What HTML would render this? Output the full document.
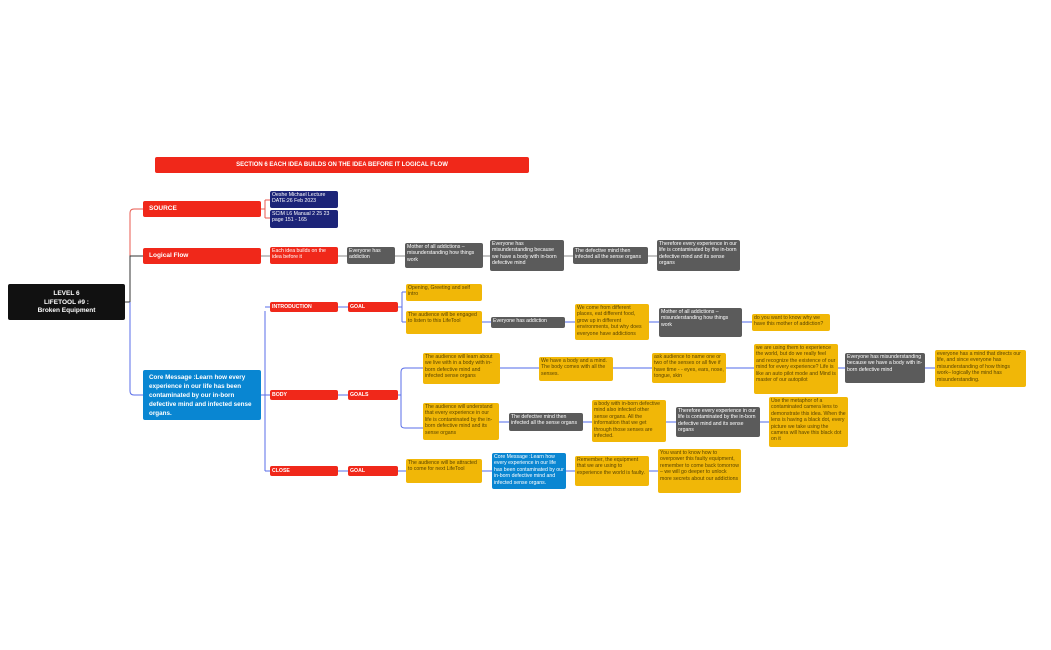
<!DOCTYPE html>
<html><head><meta charset="utf-8"><style>
body{margin:0;width:1051px;height:650px;background:#fff;position:relative;overflow:hidden;font-family:"Liberation Sans",sans-serif}
.b{position:absolute;box-sizing:border-box;border-radius:2px;font-size:5.2px;line-height:6.4px;padding:1px 2px;overflow:hidden}
.r{background:#f0281a;color:#fff;font-weight:bold}
.s{line-height:10px;padding:0 2px}
.n{background:#1c2478;color:#fff}
.g{background:#5b5b5b;color:#fff}
.y{background:#f1b707;color:#5a4400}
.bl{background:#0986d2;color:#fff}
.k{background:#111;color:#fff;font-weight:bold;text-align:center;font-size:6.5px;line-height:8.5px;padding-top:6px}
svg{position:absolute;left:0;top:0}
</style></head><body>
<svg width="1051" height="650" fill="none" stroke-width="1">
<path d="M125 302 H130" stroke="#333"/>
<path d="M130 302 V213 Q130 209 134 209 H143" stroke="#e85a4f"/>
<path d="M130 302 V256 H143" stroke="#333"/>
<path d="M130 302 V391 Q130 395 134 395 H143" stroke="#5a6ee8"/>
<path d="M261 209 H265 M265 200 V218 M265 200 H270 M265 218 H270" stroke="#e85a4f"/>
<path d="M261 256 H270 M338 256 H347 M395 256 H405 M483 256 H490 M564 256 H573 M648 256 H657" stroke="#888"/>
<path d="M261 395 H270 M265 311 V471 M265 307 H270 M265 471 H270" stroke="#5a6ee8"/>
<path d="M338 307 H348 M338 395 H348 M338 471 H348" stroke="#5a6ee8"/>
<path d="M398 307 H402 M402 292 V322 M402 292 H406 M402 322 H406" stroke="#5a6ee8"/>
<path d="M482 322 H491 M565 322 H575 M649 322 H659 M742 322 H752" stroke="#8a9cf0" stroke-width="1.5"/>
<path d="M398 395 H401 M401 372 V425 Q401 428 405 428 H423 M401 372 Q401 368 405 368 H423" stroke="#5a6ee8"/>
<path d="M500 368 H539 M613 368 H652 M726 368 H754 M838 368 H845 M925 368 H935" stroke="#8a9cf0" stroke-width="1.5"/>
<path d="M499 422 H509 M583 422 H592 M666 422 H676 M760 422 H769" stroke="#8a9cf0" stroke-width="1.5"/>
<path d="M398 471 H406 M482 471 H492 M566 471 H575 M649 471 H658" stroke="#8a9cf0" stroke-width="1.5"/>
</svg>
<div class="b r" style="left:155px;top:157px;width:374px;height:16px;text-align:center;font-size:6px;line-height:16px;padding:0">SECTION 6 EACH IDEA BUILDS ON THE IDEA BEFORE IT LOGICAL FLOW</div>
<div class="b k" style="left:8px;top:284px;width:117px;height:36px">LEVEL 6<br>LIFETOOL #9 :<br>Broken Equipment</div>
<div class="b r" style="left:143px;top:201px;width:118px;height:16px;font-size:6.5px;line-height:16px;padding:0 6px">SOURCE</div>
<div class="b r" style="left:143px;top:248px;width:118px;height:16px;font-size:6.5px;line-height:16px;padding:0 6px">Logical Flow</div>
<div class="b bl" style="left:143px;top:370px;width:118px;height:50px;font-weight:bold;font-size:6.3px;line-height:9px;padding:3px 6px">Core Message :Learn how every experience in our life has been contaminated by our in-born defective mind and infected sense organs.</div>
<div class="b n" style="left:270px;top:191px;width:68px;height:17px">Oeshe Michael Lecture DATE:26 Feb 2023</div>
<div class="b n" style="left:270px;top:210px;width:68px;height:18px">SCIM L6 Manual 2 25 23 page 151 - 165</div>
<div class="b r" style="left:270px;top:247px;width:68px;height:17px;font-weight:normal">Each idea builds on the idea before it</div>
<div class="b g" style="left:347px;top:247px;width:48px;height:17px">Everyone has addiction</div>
<div class="b g" style="left:405px;top:243px;width:78px;height:25px">Mother of all addictions –misunderstanding how things work</div>
<div class="b g" style="left:490px;top:240px;width:74px;height:31px">Everyone has misunderstanding because we have a body with in-born defective mind</div>
<div class="b g" style="left:573px;top:247px;width:75px;height:17px">The defective mind then infected all the sense organs</div>
<div class="b g" style="left:657px;top:240px;width:83px;height:31px">Therefore every experience in our life is contaminated by the in-born defective mind and its sense organs</div>
<div class="b r s" style="left:270px;top:302px;width:68px;height:10px">INTRODUCTION</div>
<div class="b r s" style="left:348px;top:302px;width:50px;height:10px">GOAL</div>
<div class="b y" style="left:406px;top:284px;width:76px;height:17px">Opening, Greeting and self intro</div>
<div class="b y" style="left:406px;top:311px;width:76px;height:23px">The audience will be engaged to listen to this LifeTool</div>
<div class="b g" style="left:491px;top:317px;width:74px;height:11px">Everyone has addiction</div>
<div class="b y" style="left:575px;top:304px;width:74px;height:36px">We come from different places, eat different food, grow up in different environments, but why does everyone have addictions</div>
<div class="b g" style="left:659px;top:308px;width:83px;height:29px">Mother of all addictions –misunderstanding how things work</div>
<div class="b y" style="left:752px;top:314px;width:78px;height:17px">do you want to know why we have this mother of addiction?</div>
<div class="b r s" style="left:270px;top:390px;width:68px;height:10px">BODY</div>
<div class="b r s" style="left:348px;top:390px;width:50px;height:10px">GOALS</div>
<div class="b y" style="left:423px;top:353px;width:77px;height:31px">The audience will learn about we live with in a body with in-born defective mind and infected sense organs</div>
<div class="b y" style="left:539px;top:357px;width:74px;height:24px">We have a body and a mind. The body comes with all the senses.</div>
<div class="b y" style="left:652px;top:353px;width:74px;height:30px">ask audience to name one or two of the senses or all five if have time - - eyes, ears, nose, tongue, skin</div>
<div class="b y" style="left:754px;top:344px;width:84px;height:50px">we are using them to experience the world, but do we really feel and recognize the existence of our mind for every experience? Life is like an auto pilot mode and Mind is master of our autopilot</div>
<div class="b g" style="left:845px;top:353px;width:80px;height:30px">Everyone has misunderstanding because we have a body with in-born defective mind</div>
<div class="b y" style="left:935px;top:350px;width:91px;height:37px">everyone has a mind that directs our life, and since everyone has misunderstanding of how things work– logically the mind has misunderstanding.</div>
<div class="b y" style="left:423px;top:403px;width:76px;height:37px">The audience will understand that every experience in our life is contaminated by the in-born defective mind and its sense organs</div>
<div class="b g" style="left:509px;top:413px;width:74px;height:18px">The defective mind then infected all the sense organs</div>
<div class="b y" style="left:592px;top:400px;width:74px;height:42px">a body with in-born defective mind also infected other sense organs. All the information that we get through those senses are infected.</div>
<div class="b g" style="left:676px;top:407px;width:84px;height:30px">Therefore every experience in our life is contaminated by the in-born defective mind and its sense organs</div>
<div class="b y" style="left:769px;top:397px;width:79px;height:50px">Use the metaphor of a contaminated camera lens to demonstrate this idea. When the lens is having a black dot, every picture we take using the camera will have this black dot on it</div>
<div class="b r s" style="left:270px;top:466px;width:68px;height:10px">CLOSE</div>
<div class="b r s" style="left:348px;top:466px;width:50px;height:10px">GOAL</div>
<div class="b y" style="left:406px;top:459px;width:76px;height:24px">The audience will be attracted to come for next LifeTool</div>
<div class="b bl" style="left:492px;top:453px;width:74px;height:36px">Core Message :Learn how every experience in our life has been contaminated by our in-born defective mind and infected sense organs.</div>
<div class="b y" style="left:575px;top:456px;width:74px;height:30px">Remember, the equipment that we are using to experience the world is faulty.</div>
<div class="b y" style="left:658px;top:449px;width:83px;height:44px">You want to know how to overpower this faulty equipment, remember to come back tomorrow – we will go deeper to unlock more secrets about our addictions</div>
</body></html>
